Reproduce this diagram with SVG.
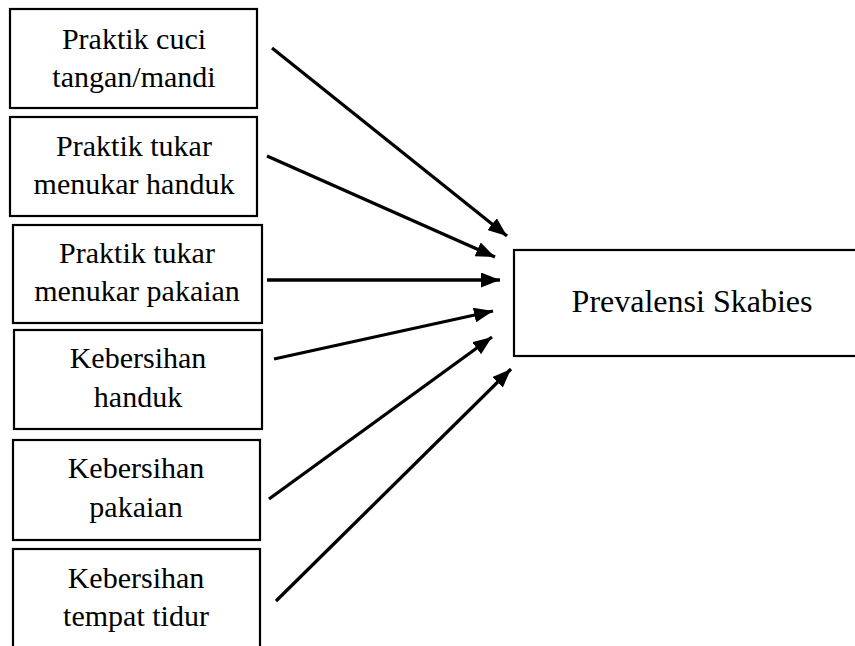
<svg xmlns="http://www.w3.org/2000/svg" width="855" height="646" viewBox="0 0 855 646">
<style>
.box{fill:#fff;stroke:#000;stroke-width:2.2}
.t{font-family:"Liberation Serif","Times New Roman",serif;font-size:30px;fill:#000;text-anchor:middle}
.c{stroke:#000;stroke-width:3.3;fill:none;marker-end:url(#ah)}
</style>
<defs>
<marker id="ah" markerUnits="userSpaceOnUse" viewBox="0 0 19 15" refX="19" refY="7.5" markerWidth="19" markerHeight="15" orient="auto">
<path d="M0,0 L19,7.5 L0,15 Z" fill="#000"/>
</marker>
</defs>
<rect width="855" height="646" fill="#fff"/>
<g id="n1"><rect class="box" x="10" y="9" width="247" height="99"/><text class="t" x="134" y="49">Praktik cuci</text><text class="t" x="134" y="87">tangan/mandi</text></g>
<g id="n2"><rect class="box" x="10" y="117" width="247" height="99"/><text class="t" x="134" y="156">Praktik tukar</text><text class="t" x="134" y="194">menukar handuk</text></g>
<g id="n3"><rect class="box" x="13" y="225" width="249" height="98"/><text class="t" x="137" y="263">Praktik tukar</text><text class="t" x="137" y="301">menukar pakaian</text></g>
<g id="n4"><rect class="box" x="14" y="330" width="248" height="99"/><text class="t" x="138" y="368">Kebersihan</text><text class="t" x="138" y="407">handuk</text></g>
<g id="n5"><rect class="box" x="13" y="440" width="247" height="100"/><text class="t" x="136" y="478">Kebersihan</text><text class="t" x="136" y="517">pakaian</text></g>
<g id="n6"><rect class="box" x="13" y="549" width="247" height="110"/><text class="t" x="136" y="588">Kebersihan</text><text class="t" x="136" y="626">tempat tidur</text></g>
<g id="n7"><rect class="box" x="514" y="250" width="346" height="106"/><text class="t" x="692" y="312" style="font-size:32px">Prevalensi Skabies</text></g>
<g id="connectors">
<line class="c" x1="272" y1="48" x2="507" y2="236"/>
<line class="c" x1="267" y1="156" x2="495" y2="257"/>
<line class="c" x1="267" y1="280" x2="500" y2="280"/>
<line class="c" x1="274" y1="359" x2="493" y2="311"/>
<line class="c" x1="269" y1="499" x2="492" y2="337"/>
<line class="c" x1="276" y1="601" x2="511" y2="369"/>
</g>
</svg>
